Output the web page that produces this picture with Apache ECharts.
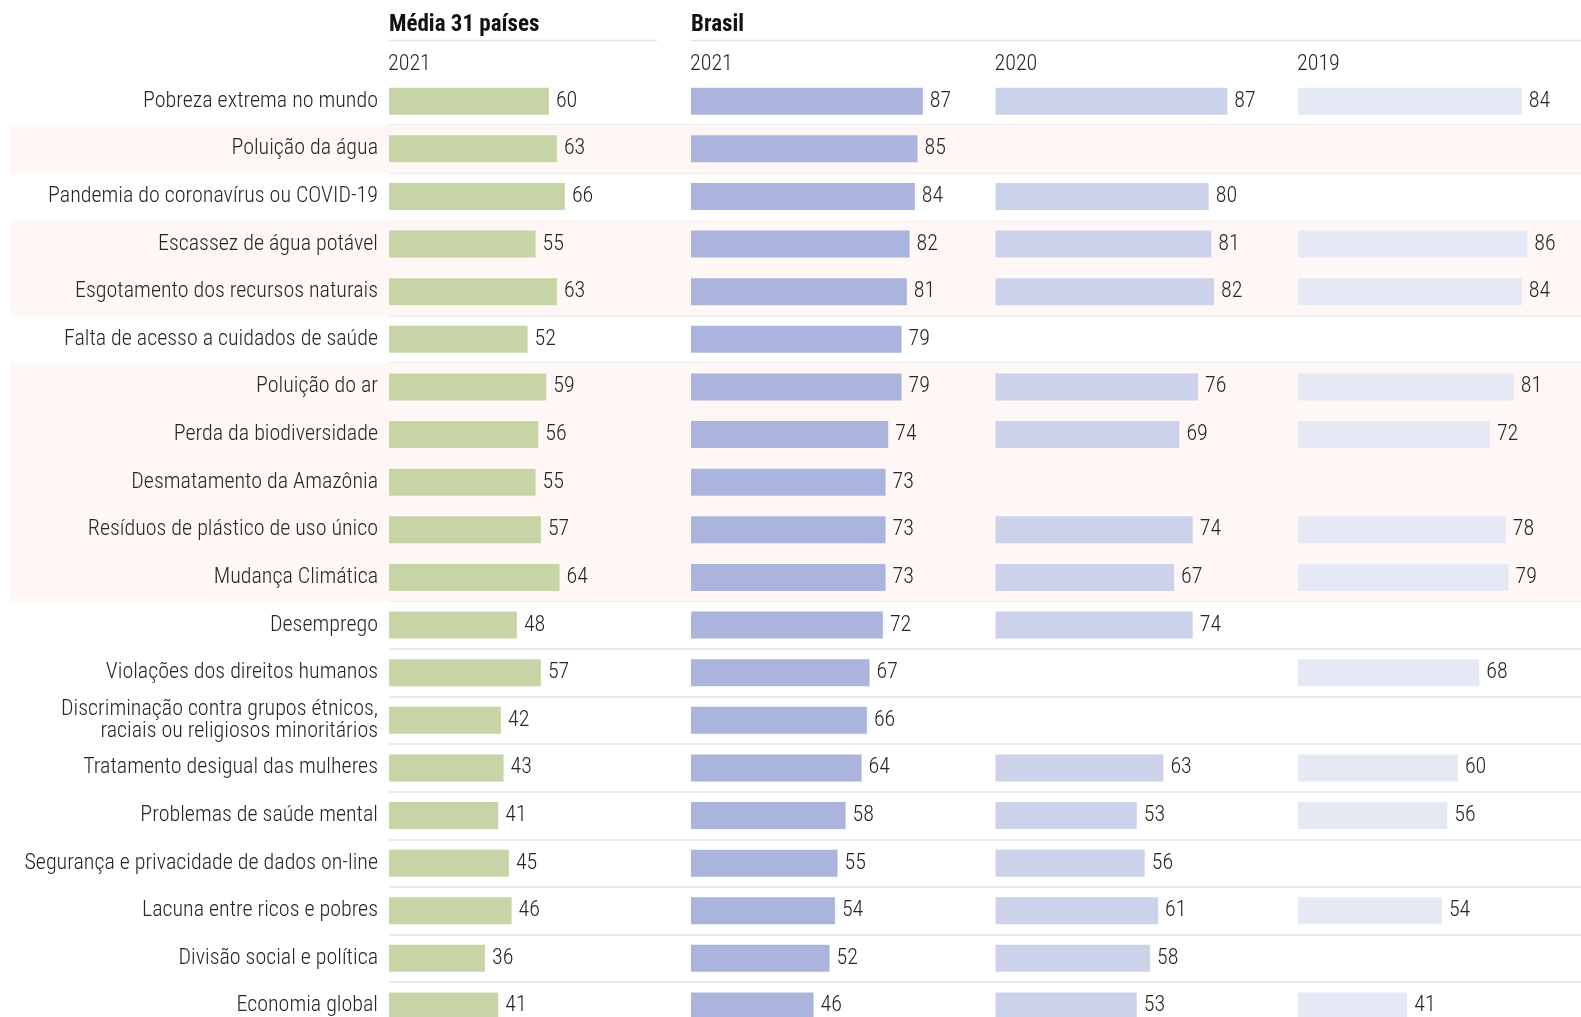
<!DOCTYPE html>
<html><head><meta charset="utf-8">
<script src="https://cdn.jsdelivr.net/npm/echarts@6/dist/echarts.min.js"></script>
<style>html,body{margin:0;padding:0;background:#fff}#c{width:1581px;height:1017px}</style>
</head><body><div id="c"></div>
<script>
const categories = [
  'Pobreza extrema no mundo',
  'Poluição da água',
  'Pandemia do coronavírus ou COVID-19',
  'Escassez de água potável',
  'Esgotamento dos recursos naturais',
  'Falta de acesso a cuidados de saúde',
  'Poluição do ar',
  'Perda da biodiversidade',
  'Desmatamento da Amazônia',
  'Resíduos de plástico de uso único',
  'Mudança Climática',
  'Desemprego',
  'Violações dos direitos humanos',
  'Discriminação contra grupos étnicos,\nraciais ou religiosos minoritários',
  'Tratamento desigual das mulheres',
  'Problemas de saúde mental',
  'Segurança e privacidade de dados on-line',
  'Lacuna entre ricos e pobres',
  'Divisão social e política',
  'Economia global'
];
const media2021  = [60,63,66,55,63,52,59,56,55,57,64,48,57,42,43,41,45,46,36,41];
const brasil2021 = [87,85,84,82,81,79,79,74,73,73,73,72,67,66,64,58,55,54,52,46];
const brasil2020 = [87,null,80,81,82,null,76,69,null,74,67,74,null,null,63,53,56,61,58,53];
const brasil2019 = [84,null,null,86,84,null,81,72,null,78,79,null,68,null,60,56,null,54,null,41];
const highlighted = [0,1,0,1,1,0,1,1,1,1,1,0,0,0,0,0,0,0,0,0];
const panelTitles = ['Média 31 países', 'Brasil'];
const yearLabels = ['2021', '2021', '2020', '2019'];

const FONT = "'Roboto Condensed','Liberation Sans Narrow','DejaVu Sans Condensed',sans-serif";
const FS = 22;
const ROW = 47.62, TOP = 77.4, N = categories.length, H = ROW * N;
const LEFTS = [389, 691, 995.5, 1298];
const PW = 266.5;
const COLORS = ['#c7d5a6', '#aab4dc', '#cdd2eb', '#e5e8f5'];
const series = [media2021, brasil2021, brasil2020, brasil2019];

const grid = [], xAxis = [], yAxis = [], ser = [];
grid.push({left: 10, right: 0, top: TOP, height: H, outerBoundsMode: 'none', containLabel: false});
xAxis.push({type: 'value', min: 0, max: 1, show: false, gridIndex: 0});
yAxis.push({type: 'category', data: categories, inverse: true, show: false, gridIndex: 0});
ser.push({type: 'bar', xAxisIndex: 0, yAxisIndex: 0, data: highlighted, barWidth: '100%',
  itemStyle: {color: '#fff6f6'}, silent: true, z: 0});
grid.push({left: 389, right: 0, top: TOP + ROW, height: H - ROW, outerBoundsMode: 'none', containLabel: false});
xAxis.push({type: 'value', min: 0, max: 1, show: false, gridIndex: 1});
yAxis.push({type: 'value', min: 1, max: N, interval: 1, inverse: true, gridIndex: 1,
  axisLine: {show: false}, axisTick: {show: false}, axisLabel: {show: false},
  splitLine: {show: true, lineStyle: {color: '#e4e4e4', width: 1.5}}});
ser.push({type: 'bar', xAxisIndex: 1, yAxisIndex: 1, data: [], silent: true});

series.forEach((vals, i) => {
  const gi = i + 2;
  grid.push({left: LEFTS[i], width: PW, top: TOP, height: H, outerBoundsMode: 'none', containLabel: false});
  xAxis.push({type: 'value', min: 0, max: 100, show: false, gridIndex: gi});
  yAxis.push({type: 'category', data: categories, inverse: true, gridIndex: gi,
    axisLine: {show: false}, axisTick: {show: false}, splitLine: {show: false},
    axisLabel: {show: i === 0, margin: 11, color: '#262626', fontSize: FS, fontWeight: 300,
      fontFamily: FONT, lineHeight: 22, align: 'right', padding: [4, 0, 0, 0]}});
  ser.push({type: 'bar', xAxisIndex: gi, yAxisIndex: gi, data: vals, barWidth: 27,
    itemStyle: {color: COLORS[i]}, silent: true, z: 3,
    label: {show: true, position: 'right', distance: 7, fontSize: FS, fontWeight: 300, color: '#262626',
      fontFamily: FONT, padding: [4, 0, 0, 0]}});
});

const graphic = [
  {type: 'text', left: 389, top: 14, style: {text: panelTitles[0], font: 'bold 23px ' + FONT, fill: '#111'}},
  {type: 'text', left: 691, top: 14, style: {text: panelTitles[1], font: 'bold 23px ' + FONT, fill: '#111'}},
  {type: 'line', shape: {x1: 389, y1: 40.5, x2: 657, y2: 40.5}, style: {stroke: '#e2e2e2', lineWidth: 1.5}},
  {type: 'line', shape: {x1: 691, y1: 40.5, x2: 1581, y2: 40.5}, style: {stroke: '#e2e2e2', lineWidth: 1.5}}
];
yearLabels.forEach((t, i) => {
  graphic.push({type: 'text', left: LEFTS[i] - 1, top: 53,
    style: {text: t, font: '300 ' + FS + 'px ' + FONT, fill: '#262626'}});
});

const chart = echarts.init(document.getElementById('c'), null, {renderer: 'canvas'});
chart.setOption({animation: false, backgroundColor: '#fff', grid, xAxis, yAxis, series: ser, graphic});
</script></body></html>
